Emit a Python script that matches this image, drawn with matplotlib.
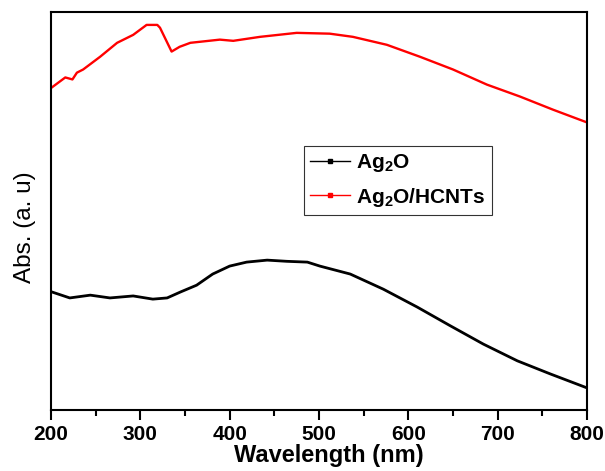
import matplotlib
matplotlib.use("Agg")
import matplotlib.pyplot as plt
from matplotlib.lines import Line2D
from matplotlib.ticker import MultipleLocator
from matplotlib import font_manager

plt.rcParams['font.family'] = ['Liberation Sans', 'DejaVu Sans']
plt.rcParams['mathtext.fontset'] = 'custom'
plt.rcParams['mathtext.rm'] = 'Liberation Sans:bold'
plt.rcParams['mathtext.default'] = 'rm'

names = {f.name for f in font_manager.fontManager.ttflist}
narrow = 'Liberation Sans Narrow' if 'Liberation Sans Narrow' in names else 'Liberation Sans'

# (absorbance in arbitrary units, 0..1 = axes height)
wl_ag2o = [201, 221, 244, 266, 292, 314, 330, 345, 363, 381, 400, 419, 442,
           464, 487, 501, 535, 572, 610, 647, 684, 722, 759, 800]
abs_ag2o = [0.296, 0.281, 0.288, 0.281, 0.286, 0.278, 0.281, 0.296, 0.313,
            0.341, 0.361, 0.371, 0.376, 0.373, 0.371, 0.361, 0.341, 0.303,
            0.258, 0.211, 0.165, 0.123, 0.090, 0.055]

wl_hcnt = [201, 216, 224, 229, 236, 255, 274, 292, 307, 319, 322, 335, 344,
           356, 389, 404, 434, 475, 512, 538, 576, 613, 650, 688, 725, 762, 800]
abs_hcnt = [0.810, 0.835, 0.830, 0.847, 0.855, 0.887, 0.922, 0.942, 0.967,
            0.967, 0.960, 0.900, 0.912, 0.922, 0.930, 0.927, 0.937, 0.947,
            0.945, 0.937, 0.917, 0.887, 0.855, 0.817, 0.787, 0.754, 0.722]

labels = ['Ag$_2$O', 'Ag$_2$O/HCNTs']
colors = ['black', 'red']

fig = plt.figure(figsize=(6.05, 4.71), dpi=100)
ax = fig.add_axes([0.0843, 0.130, 0.8859, 0.845])

ax.plot(wl_ag2o, abs_ag2o, color=colors[0], lw=2.0)
ax.plot(wl_hcnt, abs_hcnt, color=colors[1], lw=1.7)

ax.set_xlim(200, 800)
ax.set_ylim(0, 1)
ax.xaxis.set_major_locator(MultipleLocator(100))
ax.xaxis.set_minor_locator(MultipleLocator(50))
ax.set_yticks([])
ax.tick_params(axis='x', which='major', direction='out', length=7, width=1.5,
               labelsize=15, pad=4)
ax.tick_params(axis='x', which='minor', direction='out', length=4, width=1.5)
for lab in ax.get_xticklabels():
    lab.set_fontweight('bold')
    lab.set_family(narrow)
for sp in ax.spines.values():
    sp.set_linewidth(1.5)

ax.set_xlabel('Wavelength (nm)', fontsize=17, fontweight='bold')
ax.xaxis.set_label_coords(0.519, -0.085)
ax.set_ylabel('Abs. (a. u)', fontsize=17.5)
ax.yaxis.set_label_coords(-0.028, 0.458)

handles = [Line2D([], [], color=c, lw=1.0, marker='s', ms=2.5) for c in colors]
leg = ax.legend(handles, labels, numpoints=1, loc='upper left',
                bbox_to_anchor=(0.472, 0.663),
                prop={'weight': 'bold', 'size': 15}, frameon=True, fancybox=False,
                edgecolor='black', handlelength=1.9, borderpad=0.3,
                labelspacing=0.55, handletextpad=0.3, borderaxespad=0)
leg._legend_box.sep = 0
leg.get_frame().set_linewidth(0.8)

fig.savefig('out.png', dpi=100)
